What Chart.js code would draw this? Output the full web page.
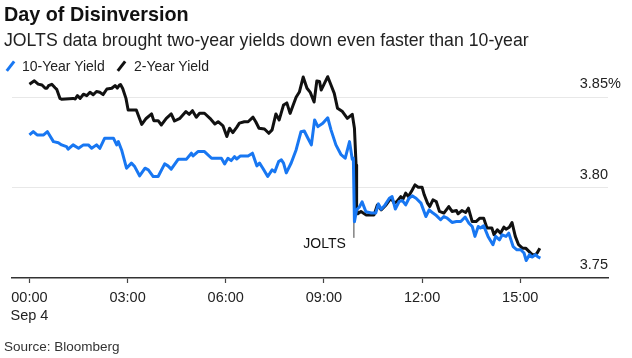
<!DOCTYPE html>
<html>
<head>
<meta charset="utf-8">
<script src="https://cdn.jsdelivr.net/npm/chart.js@4.4.1/dist/chart.umd.min.js"></script>
<style>
  body { margin: 0; background: #fff; }
  #wrap { position: relative; width: 632px; height: 358px; font-family: "Liberation Sans", Arial, sans-serif; color: #111; }
  #wrap canvas { position: absolute; left: 0; top: 0; }
  .txt { position: absolute; left: 4px; white-space: nowrap; z-index: 2; }
  #title { top: 5px; font-size: 19.8px; line-height: 19.8px; font-weight: bold; }
  #subtitle { top: 32px; font-size: 17.7px; line-height: 17.7px; color: #222; }
  #legend { top: 59px; font-size: 14px; line-height: 14px; color: #222; left: 0; }
  #legend span.item { position: absolute; top: 0; }
  #legend i { position: absolute; width: 2.6px; height: 12px; top: 1px; transform: rotate(38deg); }
  #source { top: 339.5px; font-size: 13.5px; line-height: 13.5px; color: #333; }
</style>
</head>
<body>
<div id="wrap">
  <div class="txt" id="title">Day of Disinversion</div>
  <div class="txt" id="subtitle">JOLTS data brought two-year yields down even faster than 10-year</div>
  <div class="txt" id="legend">
    <i style="left:9px;background:#1877f2"></i><span class="item" style="left:22px">10-Year Yield</span>
    <i style="left:120px;background:#111"></i><span class="item" style="left:134px">2-Year Yield</span>
  </div>
  <div class="txt" id="source">Source: Bloomberg</div>
  <canvas id="chart" width="632" height="358"></canvas>
</div>
<script>
// minutes after midnight, Sep 4
var tenYearTimes = [
  0, 7, 14, 26, 33, 44, 53, 59, 68, 71,
  80, 90, 99, 108, 114, 123, 129, 138, 154, 160,
  163, 169, 178, 187, 193, 202, 212, 218, 227, 236,
  248, 254, 260, 273, 288, 297, 300, 309, 321, 334,
  352, 358, 364, 370, 376, 380, 387, 401, 409, 417,
  422, 428, 437, 445, 450, 457, 462, 466, 471, 480,
  489, 498, 504, 510, 517, 523, 529, 538, 547, 553,
  562, 571, 579, 587, 592, 594, 596, 600, 605, 610,
  617, 627, 635, 640, 645, 651, 660, 665, 671, 678,
  684, 690, 696, 702, 709, 718, 727, 733, 740, 745,
  754, 760, 766, 775, 783, 791, 799, 806, 812, 817,
  823, 827, 833, 841, 850, 855, 862, 867, 874, 879,
  887, 894, 901, 907, 911, 917, 922, 928, 933, 937
]
var tenYearYields = [
  3.8291, 3.8309, 3.8291, 3.8291, 3.8309, 3.8254, 3.8248, 3.8236, 3.8226, 3.8212,
  3.8236, 3.8217, 3.8236, 3.8236, 3.8217, 3.8236, 3.8217, 3.8273, 3.8273, 3.8236,
  3.8254, 3.8208, 3.8107, 3.8135, 3.8116, 3.8065, 3.8107, 3.8098, 3.8061, 3.8061,
  3.8131, 3.8120, 3.8102, 3.8157, 3.8157, 3.8190, 3.8175, 3.8199, 3.8199, 3.8162,
  3.8162, 3.8131, 3.8162, 3.8149, 3.8171, 3.8158, 3.8175, 3.8175, 3.8190, 3.8120,
  3.8135, 3.8107, 3.8061, 3.8098, 3.8087, 3.8144, 3.8153, 3.8135, 3.8081, 3.8136,
  3.8208, 3.8309, 3.8313, 3.8277, 3.8236, 3.8374, 3.8337, 3.8356, 3.8386, 3.8319,
  3.8236, 3.8184, 3.8162, 3.8254, 3.8157, 3.8162, 3.7811, 3.7877, 3.7893, 3.7921,
  3.7866, 3.7859, 3.7859, 3.7910, 3.7880, 3.7899, 3.7941, 3.7950, 3.7881, 3.7923,
  3.7928, 3.7904, 3.7941, 3.7954, 3.7941, 3.7914, 3.7840, 3.7877, 3.7859, 3.7849,
  3.7822, 3.7840, 3.7831, 3.7807, 3.7812, 3.7812, 3.7837, 3.7803, 3.7785, 3.7730,
  3.7785, 3.7776, 3.7789, 3.7730, 3.7684, 3.7730, 3.7711, 3.7739, 3.7730, 3.7748,
  3.7674, 3.7656, 3.7656, 3.7638, 3.7597, 3.7629, 3.7616, 3.7629, 3.7616, 3.7610
]
var twoYearTimes = [
  0, 9, 16, 23, 29, 32, 35, 41, 47, 50,
  56, 59, 80, 84, 88, 93, 99, 105, 111, 117,
  123, 129, 135, 142, 151, 157, 161, 165, 167, 171,
  177, 181, 196, 206, 214, 224, 228, 236, 242, 251,
  260, 266, 276, 287, 293, 299, 306, 312, 321, 331,
  340, 346, 355, 362, 367, 373, 380, 385, 394, 401,
  410, 415, 421, 431, 439, 445, 452, 458, 466, 472,
  478, 483, 489, 495, 502, 509, 515, 522, 527, 532,
  535, 541, 547, 553, 559, 565, 574, 583, 592, 596,
  599, 600, 602, 608, 617, 623, 632, 638, 645, 654,
  663, 669, 674, 681, 685, 690, 695, 702, 707, 713,
  720, 724, 730, 734, 740, 746, 752, 760, 769, 775,
  783, 786, 793, 800, 805, 812, 819, 826, 833, 839,
  848, 852, 858, 864, 870, 874, 880, 885, 891, 897,
  904, 910, 916, 922, 928, 931, 936
]
var twoYearYields = [
  3.8571, 3.8590, 3.8572, 3.8567, 3.8549, 3.8549, 3.8563, 3.8571, 3.8552, 3.8543,
  3.8493, 3.8488, 3.8493, 3.8490, 3.8508, 3.8493, 3.8516, 3.8508, 3.8527, 3.8513,
  3.8531, 3.8527, 3.8514, 3.8545, 3.8549, 3.8564, 3.8550, 3.8567, 3.8570, 3.8548,
  3.8493, 3.8429, 3.8429, 3.8349, 3.8382, 3.8407, 3.8370, 3.8370, 3.8346, 3.8383,
  3.8407, 3.8368, 3.8383, 3.8420, 3.8405, 3.8425, 3.8389, 3.8411, 3.8411, 3.8383,
  3.8352, 3.8364, 3.8341, 3.8282, 3.8328, 3.8304, 3.8333, 3.8356, 3.8364, 3.8364,
  3.8389, 3.8364, 3.8328, 3.8324, 3.8300, 3.8319, 3.8407, 3.8374, 3.8457, 3.8468,
  3.8410, 3.8451, 3.8499, 3.8528, 3.8611, 3.8549, 3.8526, 3.8473, 3.8589, 3.8586,
  3.8539, 3.8576, 3.8613, 3.8567, 3.8521, 3.8438, 3.8420, 3.8383, 3.8405, 3.8328,
  3.8125, 3.7877, 3.7855, 3.7868, 3.7849, 3.7849, 3.7849, 3.7904, 3.7877, 3.7904,
  3.7941, 3.7914, 3.7923, 3.7950, 3.7936, 3.7969, 3.7950, 3.7987, 3.8015, 3.8002,
  3.8002, 3.7960, 3.7914, 3.7895, 3.7932, 3.7923, 3.7868, 3.7859, 3.7895, 3.7868,
  3.7873, 3.7855, 3.7873, 3.7862, 3.7886, 3.7812, 3.7812, 3.7831, 3.7831, 3.7776,
  3.7776, 3.7739, 3.7767, 3.7748, 3.7781, 3.7770, 3.7781, 3.7807, 3.7730, 3.7684,
  3.7665, 3.7665, 3.7647, 3.7629, 3.7629, 3.7638, 3.7665
]

// JOLTS release marker
var joltsTime = [595, 595]
var joltsRange = [3.7722, 3.8152]
var joltsLabel = 'JOLTS'

var xTickMinutes = [0, 180, 360, 540, 720, 900]
var xTickLabels = [['00:00', 'Sep 4'], '03:00', '06:00', '09:00', '12:00', '15:00']
var yTicks = [3.75, 3.80, 3.85]
var yTickLabels = ['3.75', '3.80', '3.85']

var FONT = '"Liberation Sans", Arial, sans-serif'

function pts(xs, ys) {
  return xs.map(function (x, i) { return { x: x, y: ys[i] } })
}

// y labels sit above their gridline, right aligned to the end of it
var yLabels = {
  id: 'yLabels',
  afterDraw: function (chart) {
    var ctx = chart.ctx, ys = chart.scales.y, area = chart.chartArea
    ctx.save()
    ctx.font = '14.5px ' + FONT
    ctx.fillStyle = '#222'
    ctx.textBaseline = 'alphabetic'
    yTicks.forEach(function (v, i) {
      var py = ys.getPixelForValue(v) - 9
      ctx.textAlign = 'right'
      ctx.fillText(yTickLabels[i], area.right, py)
      if (i === yTicks.length - 1) {
        ctx.textAlign = 'left'
        ctx.fillText('%', area.right, py)
      }
    })
    // JOLTS label
    var xs = chart.scales.x
    ctx.font = '14px ' + FONT
    ctx.fillStyle = '#111'
    ctx.textAlign = 'right'
    ctx.textBaseline = 'top'
    ctx.fillText(joltsLabel, xs.getPixelForValue(joltsTime[0]) - 8, ys.getPixelForValue(joltsRange[0]) - 0.5)
    ctx.restore()
  }
}

new Chart(document.getElementById('chart'), {
  type: 'line',
  data: {
    datasets: [
      {
        label: '10-Year Yield',
        data: pts(tenYearTimes, tenYearYields),
        borderColor: '#1877f2',
        borderWidth: 3,
        pointRadius: 0,
        tension: 0,
        borderJoinStyle: 'round'
      },
      {
        label: '2-Year Yield',
        data: pts(twoYearTimes, twoYearYields),
        borderColor: '#111111',
        borderWidth: 3,
        pointRadius: 0,
        tension: 0,
        borderJoinStyle: 'round'
      },
      {
        label: 'JOLTS',
        data: pts(joltsTime, joltsRange),
        borderColor: '#444444',
        borderWidth: 1,
        pointRadius: 0
      }
    ]
  },
  options: {
    responsive: false,
    animation: false,
    layout: { padding: { left: 12, top: 70, right: 0, bottom: 0 } },
    plugins: { legend: { display: false }, tooltip: { enabled: false } },
    scales: {
      x: {
        type: 'linear',
        min: -32,
        max: 1061,
        afterBuildTicks: function (s) { s.ticks = xTickMinutes.map(function (v) { return { value: v } }) },
        afterFit: function (s) { s.height = 80 },
        grid: { drawOnChartArea: false, drawTicks: true, tickLength: 5, tickColor: '#444', tickWidth: 1.2 },
        border: { display: true, color: '#333', width: 1.6 },
        ticks: {
          autoSkip: false,
          maxRotation: 0,
          padding: 6,
          color: '#222',
          font: { family: FONT, size: 14.5, lineHeight: 1.25 },
          callback: function (v, i) { return xTickLabels[i] }
        }
      },
      y: {
        position: 'right',
        min: 3.75,
        max: 3.865,
        afterBuildTicks: function (s) { s.ticks = yTicks.map(function (v) { return { value: v } }) },
        afterFit: function (s) { s.width = 24 },
        grid: {
          drawTicks: false,
          color: function (c) { return c.tick && c.tick.value === 3.75 ? 'rgba(0,0,0,0)' : '#e8e8e8' }
        },
        border: { display: false },
        ticks: { display: false }
      }
    }
  },
  plugins: [yLabels]
})
</script>
</body>
</html>
